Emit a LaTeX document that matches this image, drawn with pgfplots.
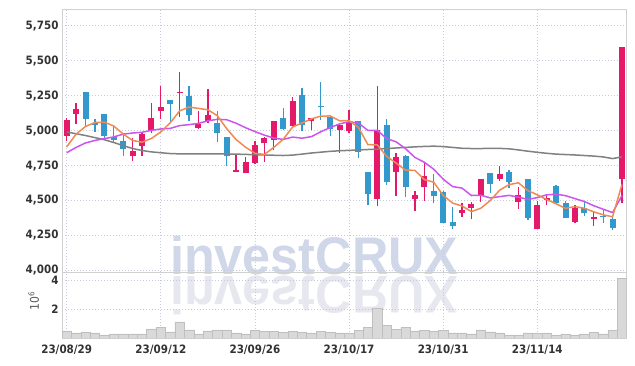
\documentclass[border=0pt]{standalone}
\usepackage{fontspec}
\setmainfont{DejaVu Sans Condensed}
\newfontfamily\wmfont{Liberation Sans}
\usepackage{pgfplots}
\usepackage{pgfplotstable}
\pgfplotsset{compat=1.18}
\definecolor{cred}{HTML}{E5196A}
\definecolor{cblue}{HTML}{3399CC}
\definecolor{mao}{HTML}{EF8A55}
\definecolor{map}{HTML}{CC55EE}
\definecolor{mag}{HTML}{808080}
\definecolor{volf}{HTML}{D9D9D9}
\definecolor{vold}{HTML}{BFBFBF}
\definecolor{gridc}{HTML}{C5C9DC}
\definecolor{framec}{HTML}{D0D0D0}
\definecolor{txt}{HTML}{333333}
\definecolor{wm}{HTML}{D0D7E8}
\definecolor{wmr}{HTML}{E7E7EF}

\pgfplotstableread{
i open high low close
0 4961 5091 4925 5074
1 5117 5201 5045 5153
7 4817 4944 4781 4851
8 4889 4985 4817 4973
9 5004 5201 4980 5093
10 5141 5321 5086 5167
12 5266 5417 5100 5278
14 5019 5141 5014 5045
15 5069 5297 5057 5115
18 4707 4829 4702 4721
19 4697 4812 4697 4774
20 4767 4923 4760 4894
21 4911 4955 4774 4944
22 4932 5067 4858 5067
24 5033 5237 5021 5215
26 5069 5091 5004 5091
29 5002 5038 4841 5038
30 4995 5150 4986 5052
33 4512 5321 4462 5004
35 4702 4841 4536 4812
37 4512 4570 4426 4541
38 4594 4774 4500 4673
42 4414 4486 4385 4433
43 4450 4493 4366 4476
44 4536 4654 4488 4654
46 4656 4745 4637 4690
48 4488 4594 4438 4541
50 4299 4500 4295 4467
51 4503 4548 4469 4519
54 4344 4471 4340 4445
56 4371 4421 4320 4385
59 4654 5597 4481 5597
}\up

\pgfplotstableread{
i open high low close
2 5278 5278 5028 5081
3 5052 5086 4990 5038
4 5117 5117 4942 4959
5 4954 5038 4913 4932
6 4923 4973 4817 4870
11 5218 5218 5057 5194
13 5249 5316 5069 5112
16 5052 5141 4920 4983
17 4951 4955 4745 4817
23 5088 5165 5004 5009
25 5254 5302 4999 5040
27 5175 5345 5076 5167
28 5095 5100 4963 5014
31 5067 5067 4805 4846
32 4707 4707 4467 4548
34 5038 5086 4611 4630
36 4817 4829 4524 4594
39 4570 4690 4486 4536
40 4558 4565 4340 4342
41 4347 4452 4294 4320
45 4697 4697 4553 4618
47 4704 4716 4589 4630
49 4654 4654 4359 4378
52 4606 4610 4480 4481
53 4481 4500 4373 4373
55 4450 4500 4390 4409
57 4390 4438 4342 4380
58 4368 4390 4289 4303
}\down

\pgfplotstableread{
i ma5 ma10 ma60
0 4884 4842 4990
1 4975 4880 4978
2 5030 4912 4965
3 5058 4930 4950
4 5061 4943 4935
5 5033 4955 4915
6 4976 4975 4893
7 4930 4983 4872
8 4917 4988 4858
9 4944 5002 4848
10 4991 5012 4842
11 5056 5016 4836
12 5141 5036 4834
13 5169 5043 4834
14 5159 5052 4834
15 5149 5070 4834
16 5107 5081 4834
17 5014 5078 4833
18 4936 5053 4832
19 4882 5021 4830
20 4838 4993 4828
21 4830 4968 4826
22 4880 4947 4824
23 4938 4937 4822
24 5026 4954 4825
25 5055 4946 4832
26 5084 4957 4840
27 5104 4992 4846
28 5105 5022 4852
29 5070 5048 4856
30 5072 5064 4859
31 5023 5054 4862
32 4900 5002 4865
33 4898 5002 4868
34 4816 4943 4872
35 4768 4920 4876
36 4718 4871 4880
37 4716 4808 4884
38 4650 4774 4887
39 4631 4724 4889
40 4537 4653 4886
41 4482 4600 4880
42 4461 4589 4874
43 4421 4536 4872
44 4445 4538 4872
45 4500 4519 4873
46 4574 4528 4873
47 4614 4537 4870
48 4627 4524 4862
49 4571 4508 4853
50 4541 4521 4845
51 4507 4541 4838
52 4477 4545 4832
53 4444 4535 4829
54 4457 4514 4826
55 4445 4493 4822
56 4419 4463 4818
57 4398 4438 4812
58 4384 4414 4800
59 4615 4536 4813
}\ma

\pgfplotstableread{
i v
0 0.49
1 0.35
2 0.42
3 0.35
4 0.21
5 0.28
6 0.28
7 0.28
8 0.28
9 0.63
10 0.76
11 0.42
12 1.11
13 0.56
14 0.28
15 0.49
16 0.56
17 0.56
18 0.35
19 0.28
20 0.53
21 0.45
22 0.45
23 0.37
24 0.46
25 0.39
26 0.35
27 0.46
28 0.39
29 0.35
30 0.30
31 0.53
32 0.74
33 2.06
34 0.88
35 0.60
36 0.74
37 0.49
38 0.53
39 0.46
40 0.53
41 0.35
42 0.35
43 0.28
44 0.56
45 0.42
46 0.35
47 0.21
48 0.21
49 0.35
50 0.32
51 0.35
52 0.21
53 0.28
54 0.21
55 0.28
56 0.39
57 0.28
58 0.53
59 4.14
}\vol

\pgfplotsset{
  common/.style={
    scale only axis, anchor=south west, width=564.7pt,
    xmin=-0.5, xmax=59.5,
    xtick={0,10,20,30,40,50},
    grid=major,
    major grid style={color=gridc, dash pattern=on 1pt off 2pt, line width=0.7pt},
    major tick length=0pt,
    axis line style={draw=framec, line width=0.8pt},
    tick label style={font=\bfseries\fontsize{11.5}{12}\selectfont, text=txt},
    /pgf/number format/1000 sep={,},
    /pgf/number format/assume math mode=true,
  },
  candle/.style 2 args={draw=none, mark=none, forget plot,
    error bars/.cd, y dir=plus, y explicit, error mark=none,
    error bar style={draw=#1, line width=#2, line cap=butt}},
}

\begin{document}
\begin{tikzpicture}
\path[use as bounding box] (0,0) rectangle (635pt,366pt);
\node[anchor=base west, inner sep=0pt, text=wm, xscale=0.95,
  font=\wmfont\bfseries\fontsize{53}{53}\selectfont] at (170pt,91.5pt) {investCRUX};
\node[anchor=base west, inner sep=0pt, text=wmr, xscale=0.95, yscale=-1,
  font=\wmfont\bfseries\fontsize{53}{53}\selectfont] at (170pt,89.5pt) {investCRUX};

\begin{axis}[common, at={(62pt,94pt)}, height=263pt,
  ymin=3989, ymax=5870,
  ytick={4000,4250,4500,4750,5000,5250,5500,5750},
  xticklabels={},
]
% wicks
\addplot[candle={cred}{1.3pt}]
  table[x=i, y=low, y error plus expr=\thisrow{high}-\thisrow{low}] {\up};
\addplot[candle={cblue}{1.3pt}]
  table[x=i, y=low, y error plus expr=\thisrow{high}-\thisrow{low}] {\down};
% bodies
\addplot[candle={cred}{6pt}]
  table[x=i, y=open, y error plus expr=\thisrow{close}-\thisrow{open}] {\up};
\addplot[candle={cblue}{6pt}]
  table[x=i, y=close, y error plus expr=\thisrow{open}-\thisrow{close}] {\down};
% moving averages
\addplot[mag, line width=1.5pt, mark=none] table[x=i, y=ma60] {\ma};
\addplot[map, line width=1.5pt, mark=none] table[x=i, y=ma10] {\ma};
\addplot[mao, line width=1.5pt, mark=none] table[x=i, y=ma5] {\ma};
\end{axis}

\begin{axis}[common, at={(62pt,28pt)}, height=66pt,
  ymin=0, ymax=4.58, ytick={2,4},
  xticklabels={23/08/29,23/09/12,23/09/26,23/10/17,23/10/31,23/11/14},
  xticklabel style={yshift=-3pt},
  ylabel={10\textsuperscript{6}},
  ylabel style={at={(axis description cs:-0.05,0.56)}, anchor=center,
    font=\fontsize{12}{12}\selectfont, text=txt!80},
  ybar, bar width=9.4pt,
]
\addplot[fill=volf, draw=vold, line width=0.5pt] table[x=i, y=v] {\vol};
\end{axis}
\end{tikzpicture}
\end{document}
